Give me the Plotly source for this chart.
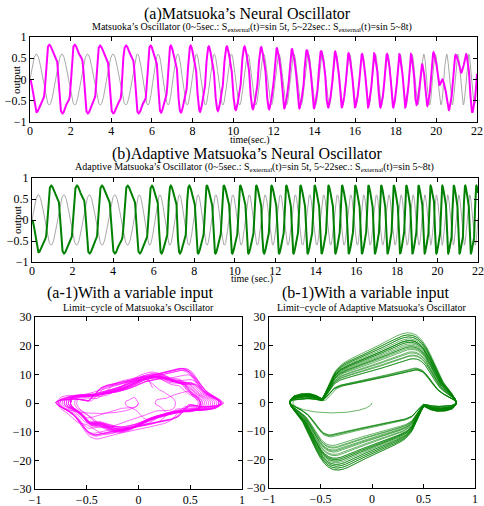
import numpy as np
import plotly.graph_objects as go

# ---------------- data ----------------
# external input: 0-5 s: 0.6 sin(5t); 5-22 s: 0.6 sin(w(t) t), w from 5 to 8
IN_AMP = 0.6
W_START, W_END = 5.0, 8.0
T_SWITCH, T_END = 5.0, 22.0

# (a) Matsuoka oscillator: alternating extrema (time, value), and waveform mix (1 = distorted)
a_ext_t = [0.0, 0.33, 0.95, 1.6, 2.2, 2.85, 3.45, 4.1, 4.73, 5.35, 5.94, 6.45, 6.93, 7.43, 7.91,
           8.37, 8.8, 9.25, 9.69, 10.13, 10.56, 10.97, 11.38, 11.77, 12.15, 12.52, 12.89, 13.26,
           13.63, 13.98, 14.33, 14.68, 15.02, 15.35, 15.68, 16.0, 16.34, 16.64, 16.94, 17.25,
           17.57, 17.88, 18.18, 18.47, 18.75, 19.03, 19.3, 19.56, 19.86, 20.16, 20.3, 20.62,
           20.95, 21.23, 21.47, 21.77, 22.1]
a_ext_v = [0.0, -0.77, 0.82, -0.8, 0.82, -0.8, 0.8, -0.8, 0.8, -0.8, 0.8, -0.78, 0.8, -0.78, 0.8,
           -0.76, 0.78, -0.74, 0.78, -0.72, 0.78, -0.7, 0.76, -0.7, 0.74, -0.68, 0.72, -0.68,
           0.7, -0.68, 0.68, -0.66, 0.66, -0.66, 0.62, -0.66, 0.6, -0.66, 0.62, -0.66,
           0.6, -0.66, 0.6, -0.66, 0.6, -0.6, 0.36, -0.62, 0.64, -0.13, 0.0, -0.72,
           0.58, 0.16, 0.6, -0.78, 0.5]
a_ext_d = [0.0, 0.0, 1, 1, 1, 1, 1, 1, 1, 1, 1, 0.9, 0.8, 0.7, 0.6, 0.5, 0.4, 0.35, 0.3, 0.3,
           0.3, 0.3, 0.3, 0.3, 0.3, 0.3, 0.3, 0.3, 0.3, 0.3, 0.3, 0.3, 0.3, 0.3, 0.3, 0.3, 0.3,
           0.3, 0.3, 0.3, 0.3, 0.3, 0.3, 0.3, 0.3, 0.2, 0.1, 0.1, 0.2, 0, 0, 0.1, 0.2, 0,
           0, 0.2, 0.2]

# (b) Adaptive Matsuoka oscillator extrema
b_ext_t = [0.0, 0.33, 0.95, 1.58, 2.22, 2.84, 3.45, 4.09, 4.72, 5.32, 5.92, 6.39, 6.85, 7.3, 7.76,
           8.2, 8.63, 9.05, 9.47, 9.88, 10.28, 10.68, 11.07, 11.45, 11.82, 12.19, 12.55, 12.9,
           13.25, 13.6, 13.95, 14.29, 14.63, 14.97, 15.3, 15.63, 15.95, 16.28, 16.6, 16.92,
           17.23, 17.54, 17.85, 18.16, 18.47, 18.77, 19.07, 19.37, 19.66, 19.95, 20.24, 20.53,
           20.81, 21.09, 21.37, 21.65, 21.92, 22.2]
b_ext_v = [0.0, -0.77] + [0.82, -0.8] * 28
b_ext_d = [0.0, 0.0] + [1.0] * 56

# speed profiles along a half swing (output -> |d output/dt|)
PB_X = [-0.8, -0.77, -0.7, -0.62, -0.55, -0.49, -0.44, -0.38, -0.3, 0.0, 0.3, 0.47, 0.53, 0.58, 0.66, 0.74, 0.8]
PB_V = [0.5, 1.8, 2.5, 2.7, 2.2, 0.9, 3.8, 9.5, 11.5, 15.5, 20.5, 24.0, 17.0, 11.0, 6.0, 3.5, 0.5]
PA_X = [-0.8, -0.77, -0.7, -0.6, -0.5, -0.4, -0.3, 0.0, 0.2, 0.4, 0.47, 0.55, 0.65, 0.75, 0.8]
PA_V = [0.7, 2.6, 3.2, 3.4, 3.2, 4.1, 5.5, 8.0, 9.5, 11.0, 8.0, 4.5, 3.5, 2.5, 0.7]

DT = 0.002

# ---------------- build series ----------------
t = np.arange(0.0, T_END + DT / 2, DT)
w = np.where(t < T_SWITCH, W_START,
             W_START + (W_END - W_START) * (t - T_SWITCH) / (T_END - T_SWITCH))
s_in = IN_AMP * np.sin(w * t)


def template(px_, pv_):
    sx = (np.asarray(px_) - px_[0]) / (px_[-1] - px_[0])
    sg = np.linspace(0, 1, 2001)
    v = np.interp(sg, sx, pv_)
    inv = 1.0 / v
    ug = np.concatenate([[0], np.cumsum(0.5 * (inv[1:] + inv[:-1]) * np.diff(sg))])
    ug /= ug[-1]
    return ug, sg


UB, SB = template(PB_X, PB_V)
UA, SA = template(PA_X, PA_V)


def build(ext_t, ext_v, ext_d):
    x = np.zeros_like(t)
    for i in range(len(ext_t) - 1):
        t0, t1 = ext_t[i], ext_t[i + 1]
        m = (t >= t0) & (t <= t1)
        u = (t[m] - t0) / (t1 - t0)
        d = ext_d[i + 1]
        if i == 0:
            s = (1 - np.cos(np.pi * u)) / 2
        else:
            s = d * np.interp(u, UB, SB) + (1 - d) * np.interp(u, UA, SA)
        x[m] = ext_v[i] + (ext_v[i + 1] - ext_v[i]) * s
    n = 12
    k = np.arange(-n, n + 1) * DT
    g = np.exp(-0.5 * (k / 0.005) ** 2)
    g /= g.sum()
    xp = np.concatenate([np.full(n, x[0]), x, np.full(n, x[-1])])
    return np.convolve(xp, g, mode="same")[n:-n]


xa = build(a_ext_t, a_ext_v, a_ext_d)
xb = build(b_ext_t, b_ext_v, b_ext_d)
dxa = np.gradient(xa, DT)
dxb = np.gradient(xb, DT)

# ---------------- figure ----------------
W, H = 484, 506
MAG = "#ff00ff"
GRN = "#008000"
GRY = "#a8a8a8"
FONT = "Liberation Serif"


def px(x0, x1):
    return [x0 / W, x1 / W]


def py(y0, y1):
    return [1 - y1 / H, 1 - y0 / H]


fig = go.Figure()
fig.add_trace(go.Scatter(x=t, y=s_in, mode="lines", line=dict(color=GRY, width=1), xaxis="x", yaxis="y"))
fig.add_trace(go.Scatter(x=t, y=xa, mode="lines", line=dict(color=MAG, width=2), xaxis="x", yaxis="y"))
fig.add_trace(go.Scatter(x=t, y=s_in, mode="lines", line=dict(color=GRY, width=1), xaxis="x2", yaxis="y2"))
fig.add_trace(go.Scatter(x=t, y=xb, mode="lines", line=dict(color=GRN, width=2), xaxis="x2", yaxis="y2"))
fig.add_trace(go.Scatter(x=xa, y=dxa, mode="lines", line=dict(color=MAG, width=0.6), xaxis="x3", yaxis="y3"))
fig.add_trace(go.Scatter(x=xb, y=dxb, mode="lines", line=dict(color=GRN, width=0.6), xaxis="x4", yaxis="y4"))

ax_common = dict(showline=True, mirror="ticks", linecolor="black", linewidth=1, ticks="inside",
                 ticklen=4, tickcolor="black", showgrid=False, zeroline=False, automargin=False,
                 ticklabeloverflow="allow",
                 tickfont=dict(family=FONT, size=12, color="black"))

time_ticks = [0, 2, 4, 6, 8, 10, 12, 14, 16, 18, 20, 22]
out_ticks = [-1, -0.5, 0, 0.5, 1]
phase_xt = [-1, -0.5, 0, 0.5, 1]
phase_yt = [-30, -20, -10, 0, 10, 20, 30]

fig.update_layout(
    template="none",
    width=W, height=H, margin=dict(l=0, r=0, t=0, b=0, autoexpand=False),
    paper_bgcolor="white", plot_bgcolor="white", showlegend=False,
    xaxis=dict(domain=px(30, 477), range=[0, 22], tickvals=time_ticks, anchor="y",
               ticklabelstandoff=-2, **ax_common),
    yaxis=dict(domain=py(37, 122), range=[-1, 1], tickvals=out_ticks, anchor="x", **ax_common),
    xaxis2=dict(domain=px(32, 478), range=[0, 22], tickvals=time_ticks, anchor="y2",
                ticklabelstandoff=-2, **ax_common),
    yaxis2=dict(domain=py(178, 262), range=[-1, 1], tickvals=out_ticks, anchor="x2", **ax_common),
    xaxis3=dict(domain=px(35, 242), range=[-1, 1], tickvals=phase_xt, anchor="y3", **ax_common),
    yaxis3=dict(domain=py(317, 489), range=[-30, 30], tickvals=phase_yt, anchor="x3", **ax_common),
    xaxis4=dict(domain=px(269, 475), range=[-1, 1], tickvals=phase_xt, anchor="y4", **ax_common),
    yaxis4=dict(domain=py(317, 488), range=[-30, 30], tickvals=phase_yt, anchor="x4", **ax_common),
)


def ann(text, x, y, size, angle=0):
    fig.add_annotation(text=text, x=x / W, y=1 - y / H, xref="paper", yref="paper",
                       showarrow=False, textangle=angle, xanchor="center", yanchor="middle",
                       font=dict(family=FONT, size=size, color="black"))


SUB = "<sub>external</sub>"
ann("(a)Matsuoka’s Neural Oscillator", 248, 14, 16)
ann(f"Matsuoka’s Oscillator (0~5sec.: S{SUB}(t)=sin 5t, 5~22sec.: S{SUB}(t)=sin 5~8t)", 252, 27, 10)
ann("time(sec.)", 250, 140, 10)
ann("output", 16, 80, 11, -90)
ann("(b)Adaptive Matsuoka’s Neural Oscillator", 247, 154, 16)
ann(f"Adaptive Matsuoka’s Oscillator (0~5sec.: S{SUB}(t)=sin 5t, 5~22sec.: S{SUB}(t)=sin 5~8t)", 255, 167, 10)
ann("time (sec.)", 252, 279, 10)
ann("output", 17, 220, 11, -90)
ann("(a-1)With a variable input", 130, 293, 16)
ann("Limit−cycle of Matsuoka’s Oscillator", 138, 307, 10)
ann("(b-1)With a variable input", 365, 293, 16)
ann("Limit−cycle of Adaptive Matsuoka’s Oscillator", 372, 307, 10)

fig.write_html("out.html", config={"displayModeBar": False},
               post_script="document.body.style.margin='0';document.body.style.overflow='hidden';")
